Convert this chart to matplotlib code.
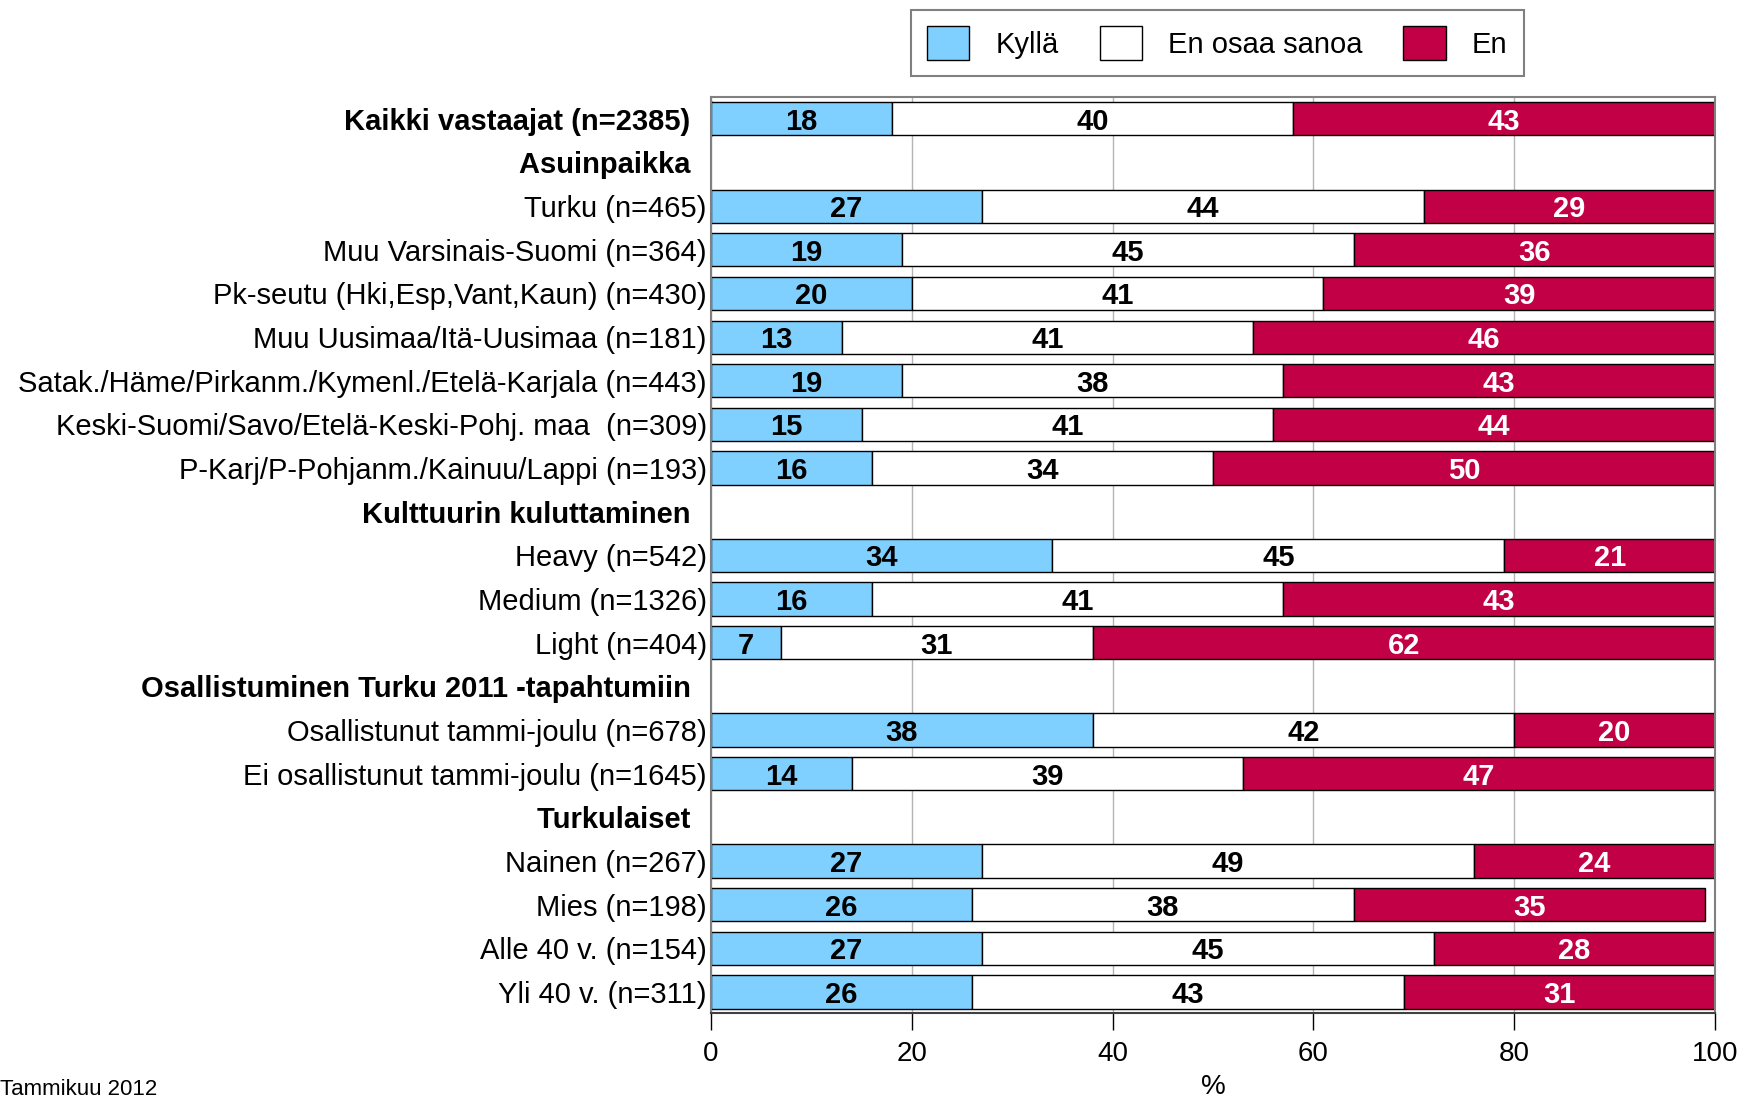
import matplotlib.pyplot as plt

plt.rcParams['font.family'] = ['Liberation Sans Narrow', 'Liberation Sans', 'DejaVu Sans']

# row labels from top to bottom; headers have no bars
labels = [
    "Kaikki vastaajat (n=2385)",
    "Asuinpaikka",
    "Turku (n=465)",
    "Muu Varsinais-Suomi (n=364)",
    "Pk-seutu (Hki,Esp,Vant,Kaun) (n=430)",
    "Muu Uusimaa/Itä-Uusimaa (n=181)",
    "Satak./Häme/Pirkanm./Kymenl./Etelä-Karjala (n=443)",
    "Keski-Suomi/Savo/Etelä-Keski-Pohj. maa  (n=309)",
    "P-Karj/P-Pohjanm./Kainuu/Lappi (n=193)",
    "Kulttuurin kuluttaminen",
    "Heavy (n=542)",
    "Medium (n=1326)",
    "Light (n=404)",
    "Osallistuminen Turku 2011 -tapahtumiin",
    "Osallistunut tammi-joulu (n=678)",
    "Ei osallistunut tammi-joulu (n=1645)",
    "Turkulaiset",
    "Nainen (n=267)",
    "Mies (n=198)",
    "Alle 40 v. (n=154)",
    "Yli 40 v. (n=311)",
]
headers = ["Asuinpaikka", "Kulttuurin kuluttaminen",
           "Osallistuminen Turku 2011 -tapahtumiin", "Turkulaiset"]

kylla = [18, None, 27, 19, 20, 13, 19, 15, 16, None, 34, 16, 7, None, 38, 14, None, 27, 26, 27, 26]
en_osaa = [40, None, 44, 45, 41, 41, 38, 41, 34, None, 45, 41, 31, None, 42, 39, None, 49, 38, 45, 43]
en = [43, None, 29, 36, 39, 46, 43, 44, 50, None, 21, 43, 62, None, 20, 47, None, 24, 35, 28, 31]

series = [("Kyllä", kylla, "#80D0FF", "black"),
          ("En osaa sanoa", en_osaa, "white", "black"),
          ("En", en, "#C20045", "white")]

fig = plt.figure(figsize=(17.44, 11.02), dpi=100)
ax = fig.add_axes([0.4077, 0.0808, 0.5757, 0.8312])

rows = list(range(len(labels)))
left = [0] * len(labels)
for name, vals, color, txtcolor in series:
    for i in rows:
        v = vals[i]
        if v is None:
            continue
        ax.barh(i, v, left=left[i], height=0.76, color=color,
                edgecolor="black", linewidth=1, zorder=2)
        visible = min(v, 100 - left[i])
        ax.text(left[i] + visible / 2, i, str(v), ha="center", va="center_baseline",
                fontsize=21, fontweight="bold", color=txtcolor, zorder=3)
        left[i] += v

# legend proxies
for name, vals, color, txtcolor in series:
    ax.barh(0, 0, color=color, edgecolor="black", linewidth=1, label=name)

ax.set_xlim(0, 100)
ax.set_ylim(20.48, -0.5)
ax.set_xticks([0, 20, 40, 60, 80, 100])
ax.tick_params(axis="x", labelsize=20, length=12, direction="out", width=1, pad=8)
ax.set_yticks(rows)
ax.set_yticklabels([l + "  " if l in headers or l.startswith("Kaikki") else l
                    for l in labels], fontsize=21)
ax.tick_params(axis="y", length=0, pad=3)
for lbl in ax.get_yticklabels():
    if lbl.get_text().strip() in headers or lbl.get_text().startswith("Kaikki"):
        lbl.set_fontweight("bold")
ax.set_xlabel("%", fontsize=20, labelpad=5)

ax.grid(axis="x", color="#B4B4B4", linewidth=1, zorder=0)
ax.set_axisbelow(True)
for side in ["top", "right", "left"]:
    ax.spines[side].set_color("#808080")
    ax.spines[side].set_linewidth(1.5)
ax.spines["bottom"].set_color("#404040")
ax.spines["bottom"].set_linewidth(1.5)

leg = fig.legend(loc="center", bbox_to_anchor=(0.698, 0.961), ncol=3, fontsize=21,
                 frameon=True, fancybox=False, edgecolor="#606060",
                 handlelength=1.45, handleheight=1.45, columnspacing=1.4,
                 handletextpad=0.9, borderpad=0.55, borderaxespad=0)
leg.get_frame().set_linewidth(1.5)

fig.text(0.0, 0.002, "Tammikuu 2012", fontsize=16, ha="left", va="bottom")

fig.savefig("out.png", dpi=100)
